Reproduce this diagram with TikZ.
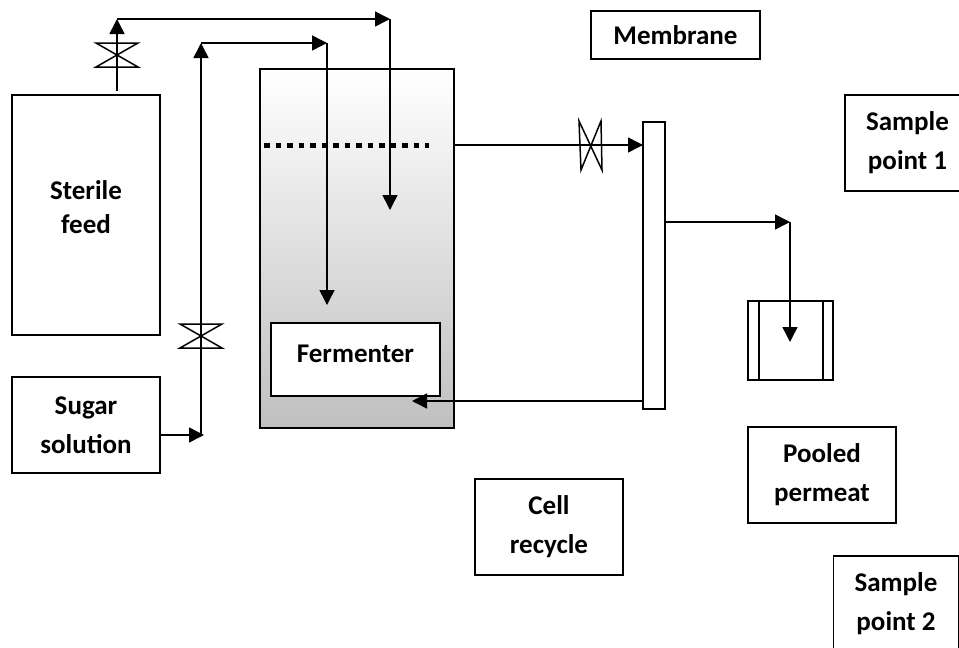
\documentclass[tikz,border=0pt]{standalone}
\usepackage{fontspec}
\setmainfont{Carlito}
\usetikzlibrary{arrows.meta}
\tikzset{
  x=1pt,y=-1pt,
  line/.style={line width=1.5pt,black},
  flow/.style={line,-{Triangle[length=15pt,width=15pt]}},
  box/.style 2 args={draw=black,line width=1.5pt,rectangle,inner sep=0pt,minimum width=#1,minimum height=#2,align=center,font=\fontsize{27}{39}\selectfont\bfseries},
  valve/.style={line width=1.5pt,black,line join=miter},
}
\begin{document}
\begin{tikzpicture}
\useasboundingbox (0,0) rectangle (959,648);
% vessel
\node[draw=black,line width=1.5pt,rectangle,inner sep=0pt,minimum width=194pt,minimum height=359pt,top color=white,bottom color=black!25] (vessel) at (357,248.5) {};
\node[box={169pt}{73pt},fill=white] (fermenter) at (355.5,359.5) {Fermenter\\[-27pt]};
\node[box={148pt}{240pt},font=\fontsize{27}{33.5}\selectfont\bfseries] (sterile) at (86,215) {Sterile\\feed\\[-18pt]};
\node[box={148pt}{96pt}] (sugar) at (86,425) {Sugar\\solution};
\node[box={169pt}{48pt}] (membranelabel) at (675.5,35) {Membrane};
\node[box={125pt}{96pt}] (sample1) at (907.5,143) {Sample\\point 1};
\node[box={148pt}{96pt}] (pooled) at (822,475) {Pooled\\permeat};
\node[box={148pt}{96pt}] (cell) at (549,527) {Cell\\recycle};
\node[box={125.5pt}{96pt}] (sample2) at (896,604) {Sample\\point 2};
% membrane module
\node[box={22pt}{287pt}] (module) at (654,265.5) {};
% collection vessel
\node[box={85pt}{79pt}] (pool) at (790.5,340.5) {};
\draw[line] (759,301) -- (759,380);
\draw[line] (823,301) -- (823,380);
% coordinates
\coordinate (feedtop) at (117,91);
\coordinate (c1) at (117,19);
\coordinate (c2) at (390,19);
\coordinate (e1) at (390,210);
\coordinate (s0) at (160,435);
\coordinate (s2) at (204,435);
\coordinate (s1) at (201,435);
\coordinate (c3) at (201,43);
\coordinate (c4) at (327,43);
\coordinate (e2) at (327,305);
\coordinate (o1) at (454,145);
\coordinate (o2) at (643,145);
\coordinate (p1) at (665,222);
\coordinate (p2) at (790,222);
\coordinate (p3) at (790,342);
\coordinate (r1) at (643,401);
\coordinate (r2) at (412,401);
\coordinate (l1) at (264,145.5);
\coordinate (l2) at (429,145.5);
% connectors
\draw[flow] (feedtop) -- (c1);
\draw[flow] (c1) -- (c2);
\draw[flow] (c2) -- (e1);
\draw[flow] (s0) -- (s2);
\draw[flow] (s1) -- (c3);
\draw[flow] (c3) -- (c4);
\draw[flow] (c4) -- (e2);
\draw[flow] (o1) -- (o2);
\draw[flow] (p1) -- (p2);
\draw[flow] (p2) -- (p3);
\draw[flow] (r1) -- (r2);
% liquid level
\draw[line width=5pt,black,dash pattern=on 5.5pt off 6pt] (l1) -- (l2);
% valves
\draw[valve] (96,43) -- (138,43) -- (96,67) -- (138,67) -- cycle;
\draw[valve] (180,324) -- (222,324) -- (180,348) -- (222,348) -- cycle;
\draw[valve] (579,121) -- (602,170) -- (601,121) -- (581,170) -- cycle;
\end{tikzpicture}
\end{document}
